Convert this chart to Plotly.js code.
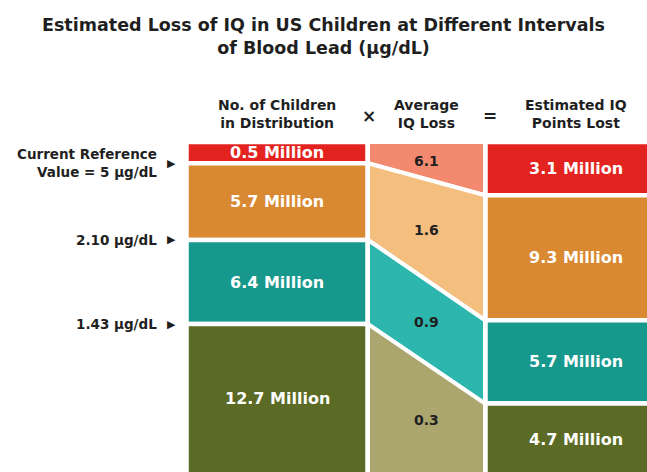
<!DOCTYPE html>
<html>
<head>
<meta charset="utf-8">
<script src="https://cdn.plot.ly/plotly-3.0.1.min.js"></script>
<style>
  html, body { margin: 0; padding: 0; background: #ffffff; }
  #chart { width: 647px; height: 472px; }
</style>
</head>
<body>
<div id="chart"></div>
<script>
// ---------------- DATA ----------------
const intervals = ['≥5 µg/dL', '2.10–5 µg/dL', '1.43–2.10 µg/dL', '<1.43 µg/dL'];
const childrenMillions = [0.5, 5.7, 6.4, 12.7];        // No. of children in distribution
const avgIQLoss = [6.1, 1.6, 0.9, 0.3];                 // Average IQ loss
const iqPointsLostMillions = [3.1, 9.3, 5.7, 4.7];      // Estimated IQ points lost
const thresholdLabels = ['Current Reference<br>Value = 5 µg/dL', '2.10 µg/dL', '1.43 µg/dL'];
const columnHeaders = ['No. of Children<br>in Distribution', 'Average<br>IQ Loss', 'Estimated IQ<br>Points Lost'];
const operators = ['×', '='];
const titleText = 'Estimated Loss of IQ in US Children at Different Intervals<br>of Blood Lead (µg/dL)';

// ---------------- STYLE ----------------
const FONT = 'DejaVu Sans, Liberation Sans, Arial, sans-serif';
const darkColors = ['#e3231f', '#d98932', '#16988d', '#5b6a24'];
const lightColors = ['#f38a6f', '#f4be7e', '#2db6ad', '#aaa66d'];
const TEXT = '#1f1f1f';

// layout geometry (pixels)
const WIDTH = 647, HEIGHT = 472, TOP = 142;
const PLOT_H = HEIGHT - TOP;
const COL_SPACING_PX = 149.5, LEFT_CENTER_PX = 277;
const BAR_W = 181 / COL_SPACING_PX;
const MID_W = 117 / COL_SPACING_PX;
const PAD = 1.5;        // label room added to each block (million units)
const Y_VISIBLE = 0.99; // bottom of columns is cropped

// stacked fractions of a column (each block gets value + PAD)
function stack(vals) {
  const h = vals.map(v => v + PAD);
  const tot = h.reduce((a, b) => a + b, 0);
  let c = 0;
  return h.map(v => { const s = c / tot; c += v; return [s, c / tot]; });
}
const leftStack = stack(childrenMillions);
const rightStack = stack(iqPointsLostMillions);

const traces = [];
traces.push({
  type: 'bar', x: intervals.map(() => 0),
  y: leftStack.map(s => s[1] - s[0]), base: leftStack.map(s => s[0]),
  width: intervals.map(() => BAR_W),
  marker: { color: darkColors, line: { color: '#ffffff', width: 4.5 } },
  hoverinfo: 'skip', showlegend: false
});
traces.push({
  type: 'bar', x: intervals.map(() => 2),
  y: rightStack.map(s => s[1] - s[0]), base: rightStack.map(s => s[0]),
  width: intervals.map(() => BAR_W),
  marker: { color: darkColors, line: { color: '#ffffff', width: 4.5 } },
  hoverinfo: 'skip', showlegend: false
});
const xl = 1 - MID_W / 2, xr = 1 + MID_W / 2;
intervals.forEach((name, i) => {
  const L = leftStack[i], R = rightStack[i];
  traces.push({
    type: 'scatter', mode: 'lines', fill: 'toself',
    x: [xl, xr, xr, xl, xl],
    y: [L[0], R[0], R[1], L[1], L[0]],
    fillcolor: lightColors[i], line: { color: '#ffffff', width: 4 },
    hoverinfo: 'skip', showlegend: false
  });
});

const annotations = [];
// block labels
intervals.forEach((name, i) => {
  annotations.push({
    x: 0, y: (leftStack[i][0] + Math.min(leftStack[i][1], Y_VISIBLE)) / 2, xref: 'x', yref: 'y',
    text: '<b>' + childrenMillions[i] + ' Million</b>', showarrow: false,
    font: { family: FONT, size: 16, color: '#ffffff' }
  });
  annotations.push({
    x: 2, y: (rightStack[i][0] + Math.min(rightStack[i][1], Y_VISIBLE + 0.01)) / 2, xref: 'x', yref: 'y',
    text: '<b>' + iqPointsLostMillions[i] + ' Million</b>', showarrow: false,
    font: { family: FONT, size: 16, color: '#ffffff' }
  });
  const yMid = (leftStack[i][0] + rightStack[i][0] + leftStack[i][1] + rightStack[i][1]) / 4;
  annotations.push({
    x: 1, y: yMid, xref: 'x', yref: 'y',
    text: '<b>' + avgIQLoss[i] + '</b>', showarrow: false,
    font: { family: FONT, size: 14, color: TEXT }
  });
});
// threshold markers on the left
thresholdLabels.forEach((t, i) => {
  const yb = leftStack[i][1];
  annotations.push({
    x: 159 / WIDTH, y: yb, xref: 'paper', yref: 'y', xanchor: 'right', align: 'right',
    text: '<b>' + t + '</b>', showarrow: false,
    font: { family: FONT, size: 13.5, color: TEXT }
  });
  annotations.push({
    x: 171 / WIDTH, y: yb, xref: 'paper', yref: 'y', xanchor: 'center',
    text: '▶', showarrow: false,
    font: { family: FONT, size: 11, color: TEXT }
  });
});
// column headers and operators
columnHeaders.forEach((h, i) => {
  annotations.push({
    x: i, y: 1 + (TOP - 114) / PLOT_H, xref: 'x', yref: 'paper', yanchor: 'middle',
    text: '<b>' + h + '</b>', showarrow: false,
    font: { family: FONT, size: 14, color: TEXT }
  });
});
// operators sit in the gaps between the columns
const gapX = [
  (BAR_W / 2 + xl) / 2 + 0.005,
  (xr + 2 - BAR_W / 2) / 2 + 0.03
];
operators.forEach((op, i) => {
  annotations.push({
    x: gapX[i], y: 1 + (TOP - 116) / PLOT_H, xref: 'x', yref: 'paper', yanchor: 'middle',
    text: '<b>' + op + '</b>', showarrow: false,
    font: { family: FONT, size: 17, color: TEXT }
  });
});

const layout = {
  width: WIDTH, height: HEIGHT,
  margin: { l: 0, r: 0, t: TOP, b: 0, pad: 0 },
  paper_bgcolor: '#ffffff', plot_bgcolor: '#ffffff',
  title: {
    text: '<b>' + titleText + '</b>',
    font: { family: FONT, size: 17.5, color: TEXT },
    x: 0.5, xanchor: 'center', y: 1 - 31 / HEIGHT, yanchor: 'middle', yref: 'container'
  },
  barmode: 'overlay',
  xaxis: {
    range: [-LEFT_CENTER_PX / COL_SPACING_PX, (WIDTH - LEFT_CENTER_PX) / COL_SPACING_PX],
    visible: false, fixedrange: true
  },
  yaxis: { range: [Y_VISIBLE, 0], visible: false, fixedrange: true },
  annotations: annotations,
  showlegend: false
};

Plotly.newPlot('chart', traces, layout, { displayModeBar: false, staticPlot: true });
</script>
</body>
</html>
